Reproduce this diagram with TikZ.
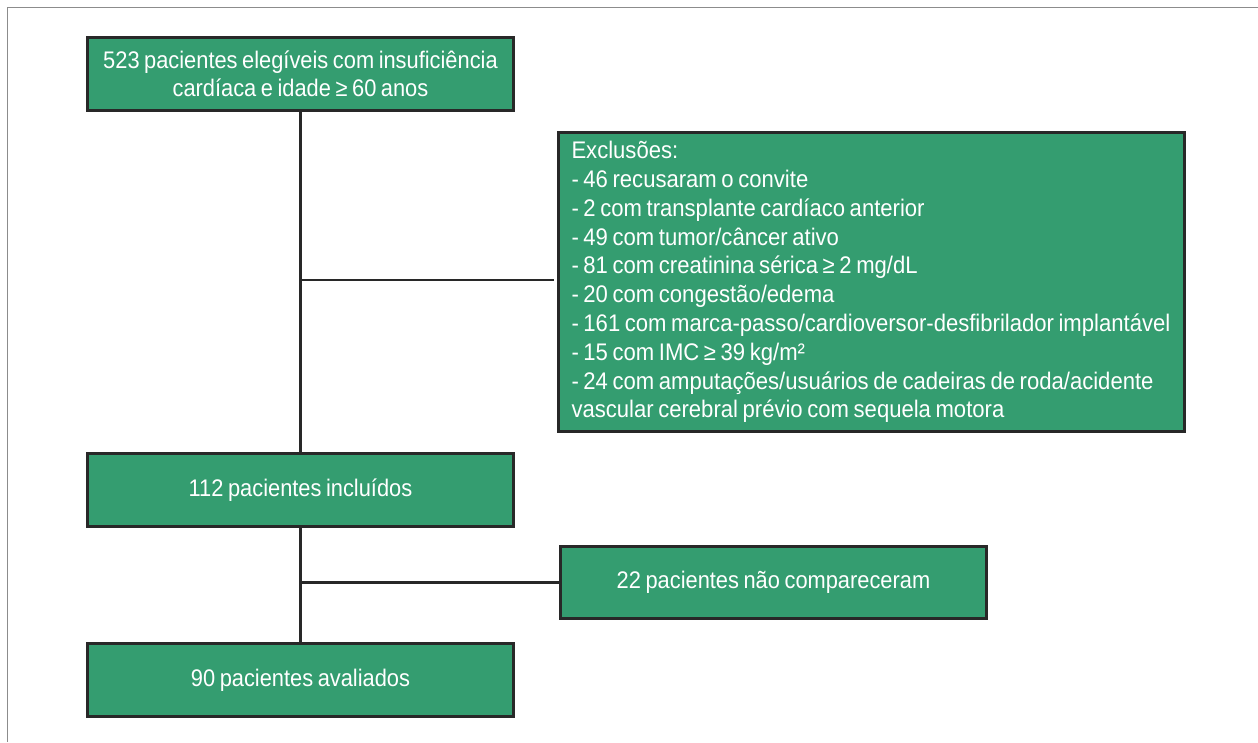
\documentclass[tikz,border=0pt]{standalone}
\usepackage{fontspec}
\setmainfont{Liberation Sans}[FakeStretch=0.91, WordSpace=0.75]
\newfontfamily\exclfont{Liberation Sans}[FakeStretch=0.92, WordSpace=0.75]
\definecolor{boxgreen}{RGB}{52,157,112}
\definecolor{boxline}{RGB}{40,40,40}
\definecolor{framegray}{RGB}{140,140,140}
\tikzset{
  flowbox/.style={draw=boxline, line width=3pt, fill=boxgreen, text=white,
    minimum width=426pt, minimum height=73pt, inner sep=0pt, align=center,
    font=\fontsize{24}{28.5}\selectfont},
  conn/.style={draw=boxline, line width=2.5pt}
}
\begin{document}
\begin{tikzpicture}[x=1pt,y=-1pt]
\useasboundingbox (0,0) rectangle (1258,742);
\draw[framegray, line width=1.5pt] (1258,7.5) -- (7.5,7.5) -- (7.5,742);
\node[flowbox] (top) at (300.5,74) {523 pacientes elegíveis com insuficiência\\cardíaca e idade ≥ 60 anos};
\node[flowbox, minimum width=626pt, minimum height=299pt, align=flush left, text width=600pt,
  font=\exclfont\fontsize{24}{28.8}\selectfont] (excl) at (871.5,282) {Exclusões:\\
- 46 recusaram o convite\\
- 2 com transplante cardíaco anterior\\
- 49 com tumor/câncer ativo\\
- 81 com creatinina sérica ≥ 2 mg/dL\\
- 20 com congestão/edema\\
- 161 com marca-passo/cardioversor-desfibrilador implantável\\
- 15 com IMC ≥ 39 kg/m²\\
- 24 com amputações/usuários de cadeiras de roda/acidente\\
vascular cerebral prévio com sequela motora};
\node[flowbox] (inc) at (300.5,490) {112 pacientes incluídos};
\node[flowbox, minimum height=72pt] (nc) at (773.5,582.5) {22 pacientes não compareceram};
\node[flowbox] (eval) at (300.5,680) {90 pacientes avaliados};
\coordinate (j1) at (top.south |- 0,280);
\coordinate (j2) at (inc.south |- nc.west);
\draw[conn] (top.south) -- (inc.north);
\draw[conn] (j1) -- ([xshift=-3pt]excl.west |- j1);
\draw[conn] (inc.south) -- (eval.north);
\draw[conn] (j2) -- (nc.west);
\end{tikzpicture}
\end{document}
